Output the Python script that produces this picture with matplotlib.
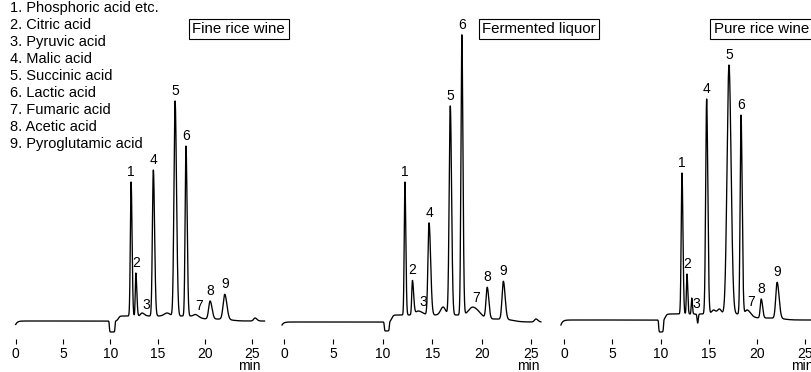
import numpy as np
import matplotlib
matplotlib.use("Agg")
import matplotlib.pyplot as plt

plt.rcParams['font.family'] = ['Liberation Sans', 'DejaVu Sans']

W, H = 811, 372
FS_TICK = 10.0
FS_PEAK = 10.0
FS_LEG = 10.5
FS_TITLE = 10.8

compounds = ["1. Phosphoric acid etc.", "2. Citric acid", "3. Pyruvic acid",
             "4. Malic acid", "5. Succinic acid", "6. Lactic acid",
             "7. Fumaric acid", "8. Acetic acid", "9. Pyroglutamic acid"]
titles = ["Fine rice wine", "Fermented liquor", "Pure rice wine"]
xticks = [0, 5, 10, 15, 20, 25]

# ---- Panel data (retention time in min, peak height in arbitrary units) ----
fine_labels = ['1', '2', '3', '4', '', '5', '6', '7', '8', '9', '']
fine_times = [12.2, 12.7, 13.35, 14.55, 16.0, 16.85, 18.0, 19.0, 20.55, 22.1, 25.3]
fine_heights = [134, 43, 3, 146, 3, 215, 170, 2, 18, 25, 3]
fine_sigl = [0.08, 0.06, 0.15, 0.10, 0.3, 0.12, 0.09, 0.2, 0.15, 0.17, 0.15]
fine_sigr = [0.10, 0.10, 0.25, 0.13, 0.3, 0.15, 0.12, 0.3, 0.20, 0.22, 0.2]
fine_drift = [5.0, 10.85, 19.4, 2.0, 22.8]      # level, rise, fall, tail level, tail end
fine_dip = [9.9, 10.5, -11.0]
fine_start = -3.5

ferm_labels = ['1', '2', '3', '4', '', '5', '6', '7', '8', '9', '']
ferm_times = [12.24, 13.0, 13.6, 14.68, 16.1, 16.83, 18.0, 19.1, 20.57, 22.2, 25.5]
ferm_heights = [133, 34, 4, 92, 8, 209, 280, 8, 31, 38, 3]
ferm_sigl = [0.07, 0.07, 0.3, 0.11, 0.25, 0.11, 0.09, 0.4, 0.12, 0.13, 0.15]
ferm_sigr = [0.09, 0.12, 0.4, 0.16, 0.25, 0.13, 0.11, 0.6, 0.16, 0.18, 0.2]
ferm_drift = [7.0, 10.9, 20.0, 3.0, 23.2]
ferm_dip = [10.15, 10.66, -9.0]
ferm_start = -3.0

pure_labels = ['1', '2', '3', '', '4', '', '', '5', '6', '7', '8', '9']
pure_times = [12.22, 12.74, 13.23, 13.85, 14.78, 15.5, 16.1, 17.1, 18.35, 19.0, 20.45, 22.1]
pure_heights = [141, 40, 16, -9, 215, 4, 5, 249, 199, 5, 19, 36]
pure_sigl = [0.08, 0.06, 0.05, 0.06, 0.10, 0.2, 0.2, 0.20, 0.09, 0.2, 0.10, 0.14]
pure_sigr = [0.10, 0.08, 0.07, 0.06, 0.12, 0.2, 0.2, 0.22, 0.12, 0.35, 0.14, 0.20]
pure_drift = [6.0, 10.5, 19.3, 2.0, 22.8]
pure_dip = [9.8, 10.3, -12.0]
pure_start = -5.0

# ---- Layout (pixel positions of the panels) ----
# (x pixel of t=0, pixels per min, baseline pixel y, t start, t end, x right limit)
layout = [
    (15.7, 9.46, 321.0, 0.0, 26.3, 27.0),
    (284.0, 9.88, 322.0, -0.2, 26.0, 26.8),
    (564.3, 9.63, 320.0, -0.35, 27.0, 25.62),
]
AX_BOTTOM_PX = 339.0
# label offsets (dx min) for shoulder labels
label_dx = {'3': 0.45, '7': 0.35}
title_left_px = [192.5, 482.0, 713.5]


def sigmoid(x):
    return 1.0 / (1.0 + np.exp(-x))


def trace(t, times, heights, sigl, sigr, drift, dip, start, t0):
    y = start * np.exp(-(t - t0) / 0.18)
    lvl, rise, fall, tail, tend = drift
    y += (lvl - tail) * (sigmoid((t - rise) / 0.08) - sigmoid((t - fall) / 0.25))
    y += tail * (sigmoid((t - rise) / 0.08) - sigmoid((t - tend) / 0.4))
    a, b, d = dip
    y += d * (sigmoid((t - a) / 0.02) - sigmoid((t - b) / 0.02))
    for tc, h, sl, sr in zip(times, heights, sigl, sigr):
        s = np.where(t < tc, sl, sr)
        y += h * np.exp(-0.5 * ((t - tc) / s) ** 2)
    return y


fig = plt.figure(figsize=(W / 100, H / 100), dpi=100)

panels = [
    (fine_labels, fine_times, fine_heights, fine_sigl, fine_sigr, fine_drift, fine_dip, fine_start),
    (ferm_labels, ferm_times, ferm_heights, ferm_sigl, ferm_sigr, ferm_drift, ferm_dip, ferm_start),
    (pure_labels, pure_times, pure_heights, pure_sigl, pure_sigr, pure_drift, pure_dip, pure_start),
]

for i, (pdata, lay) in enumerate(zip(panels, layout)):
    labels, times, heights, sigl, sigr, drift, dip, start = pdata
    x0, k, base, ts, te, xr = lay
    xl = ts - 0.3
    left_px = x0 + k * xl
    width_px = k * (xr - xl)
    ax = fig.add_axes([left_px / W, 1 - AX_BOTTOM_PX / H, width_px / W, AX_BOTTOM_PX / H])
    ax.set_xlim(xl, xr)
    ax.set_ylim(base - AX_BOTTOM_PX, base)
    t = np.linspace(ts, te, 4000)
    y = trace(t, times, heights, sigl, sigr, drift, dip, start, ts)
    ax.plot(t, y, color='black', lw=0.95, solid_joinstyle='round')
    for lab, tc in zip(labels, times):
        if not lab:
            continue
        dx = label_dx.get(lab, 0.0)
        tx = tc + dx
        m = (t > tx - 0.12) & (t < tx + 0.12)
        ytop = y[m].max() if dx else y[np.argmin(np.abs(t - tc))]
        ax.text(tx, ytop + 3, lab, ha='center', va='bottom', fontsize=FS_PEAK, clip_on=False)
    for s in ax.spines.values():
        s.set_visible(False)
    ax.set_yticks([])
    ax.set_xticks(xticks)
    ax.tick_params(axis='x', direction='out', length=3.8, width=0.8, pad=1.6, labelsize=FS_TICK)
    ax.patch.set_alpha(0)
    # "min" unit text
    fig.text((x0 + k * 24.7) / W, 1 - 370.5 / H, 'min', ha='center', va='baseline', fontsize=FS_TICK)
    # panel title box
    fig.text(title_left_px[i] / W, 1 - 29 / H, titles[i], ha='left', va='center', fontsize=FS_TITLE,
             bbox=dict(boxstyle='square,pad=0.22', fc='white', ec='black', lw=0.8))

for j, name in enumerate(compounds):
    fig.text(10 / W, 1 - (8 + 17 * j) / H, name, ha='left', va='center', fontsize=FS_LEG)

fig.savefig('out.png', dpi=100)
